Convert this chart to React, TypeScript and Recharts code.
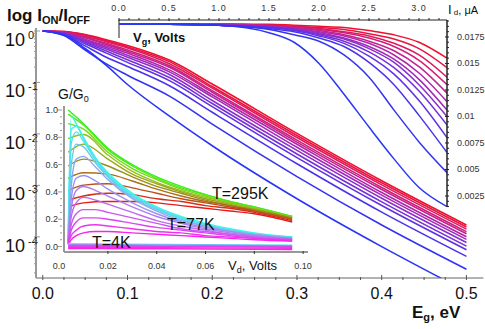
import React from "react";
import { LineChart, Line, XAxis, YAxis, ReferenceLine } from "recharts";

const FONT = "'Liberation Sans', Arial, sans-serif";

// ---- main plot: log(I_on/I_off) vs E_g ----
const egValues = [0, 0.025, 0.05, 0.075, 0.1, 0.15, 0.2, 0.3, 0.4, 0.5];
const egValuesLowest = [0, 0.025, 0.05, 0.075, 0.1, 0.15, 0.2, 0.3, 0.4, 0.48];
const logOnOff = [
  [0, -0.01, -0.07, -0.17, -0.28, -0.57, -1.03, -1.99, -2.91, -3.77],
  [0, -0.01, -0.08, -0.19, -0.31, -0.6, -1.08, -2.03, -2.95, -3.81],
  [0, -0.02, -0.1, -0.21, -0.33, -0.64, -1.11, -2.07, -2.99, -3.85],
  [0, -0.02, -0.12, -0.24, -0.37, -0.68, -1.16, -2.12, -3.04, -3.9],
  [0, -0.03, -0.13, -0.26, -0.4, -0.71, -1.19, -2.16, -3.08, -3.94],
  [0, -0.03, -0.16, -0.29, -0.43, -0.76, -1.24, -2.2, -3.14, -4.0],
  [0, -0.04, -0.18, -0.32, -0.47, -0.8, -1.28, -2.26, -3.19, -4.05],
  [0, -0.04, -0.2, -0.35, -0.51, -0.85, -1.35, -2.32, -3.25, -4.11],
  [0, -0.05, -0.22, -0.39, -0.56, -0.91, -1.41, -2.39, -3.32, -4.18],
  [0, -0.06, -0.25, -0.43, -0.61, -0.97, -1.47, -2.46, -3.39, -4.25],
  [0, -0.07, -0.29, -0.51, -0.69, -1.07, -1.58, -2.58, -3.52, -4.38],
  [0, -0.09, -0.37, -0.64, -0.86, -1.27, -1.81, -2.83, -3.77, -4.63],
];
const logOnOffLowest = [0, -0.08, -0.34, -0.67, -1.04, -1.66, -2.23, -3.26, -4.19, -4.89];

const curveColors = [
  "#f0102c", "#e81444", "#dc1a5e", "#d01e78", "#c22290", "#b226a6", "#a02aba",
  "#8c2ecb", "#7630d9", "#6032e4", "#4a34ec", "#3434f2", "#2a36f5",
];

const egTicks = [
  0, 0.025, 0.05, 0.075, 0.1, 0.125, 0.15, 0.175, 0.2, 0.225, 0.25, 0.275, 0.3,
  0.325, 0.35, 0.375, 0.4, 0.425, 0.45, 0.475, 0.5,
];
const egTickLabels = ["0.0", "0.1", "0.2", "0.3", "0.4", "0.5"];
const decadeExponents = ["0", "-1", "-2", "-3", "-4"];
const logTicks: number[] = [];
[0, -1, -2, -3, -4].forEach((d) => {
  logTicks.push(d);
  for (let k = 2; k <= 9; k++) logTicks.push(d - 1 + Math.log10(k));
});

// ---- top-right inset: I_d vs V_g ----
const vgValues = [0, 0.5, 1.0, 1.5, 1.75, 2.0, 2.25, 2.5, 2.75, 3.0, 3.28];
const idCurves = [
  [0.0187, 0.0187, 0.0187, 0.0187, 0.0186, 0.0185, 0.0184, 0.0181, 0.0177, 0.017, 0.0155],
  [0.0187, 0.0187, 0.0187, 0.0186, 0.0185, 0.0184, 0.0182, 0.0178, 0.0173, 0.0164, 0.0146],
  [0.0187, 0.0187, 0.0187, 0.0186, 0.0185, 0.0183, 0.018, 0.0176, 0.0169, 0.0158, 0.0137],
  [0.0187, 0.0187, 0.0187, 0.0186, 0.0184, 0.0182, 0.0179, 0.0174, 0.0166, 0.0153, 0.013],
  [0.0187, 0.0187, 0.0187, 0.0185, 0.0184, 0.0181, 0.0177, 0.0171, 0.0162, 0.0147, 0.0122],
  [0.0187, 0.0187, 0.0187, 0.0185, 0.0183, 0.018, 0.0176, 0.0169, 0.0158, 0.0141, 0.0114],
  [0.0187, 0.0187, 0.0186, 0.0185, 0.0183, 0.0179, 0.0174, 0.0166, 0.0154, 0.0135, 0.0106],
  [0.0187, 0.0187, 0.0186, 0.0185, 0.0182, 0.0178, 0.0173, 0.0164, 0.0151, 0.013, 0.01],
  [0.0187, 0.0187, 0.0186, 0.0184, 0.0182, 0.0177, 0.0171, 0.0161, 0.0146, 0.0124, 0.0092],
  [0.0187, 0.0187, 0.0186, 0.0184, 0.0181, 0.0176, 0.0169, 0.0157, 0.014, 0.0115, 0.008],
  [0.0187, 0.0187, 0.0186, 0.0183, 0.018, 0.0174, 0.0166, 0.0151, 0.013, 0.0101, 0.0066],
  [0.0187, 0.0187, 0.0186, 0.0182, 0.0177, 0.0171, 0.0158, 0.0137, 0.0106, 0.0076, 0.0047],
  [0.0187, 0.0187, 0.0186, 0.0179, 0.017, 0.015, 0.0121, 0.009, 0.006, 0.0033, 0.0015],
];
const vgTicks = Array.from({ length: 33 }, (_, i) => i / 10);
const vgTickLabels = ["0.0", "0.5", "1.0", "1.5", "2.0", "2.5", "3.0"];
const idTicks = Array.from({ length: 36 }, (_, i) => (i + 3) * 0.0005);
const idTickLabels = ["0.0025", "0.005", "0.0075", "0.01", "0.0125", "0.015", "0.0175"];

// ---- bottom-left inset: G/G0 vs V_d ----
const vd295 = [0.0037, 0.01, 0.02, 0.03, 0.04, 0.05, 0.06, 0.07, 0.08, 0.0955];
const g295 = [
  [1.0, 0.9, 0.72, 0.6, 0.51, 0.44, 0.38, 0.33, 0.29, 0.22],
  [0.97, 0.89, 0.71, 0.59, 0.5, 0.43, 0.38, 0.33, 0.29, 0.22],
  [0.9, 0.86, 0.69, 0.57, 0.49, 0.42, 0.37, 0.32, 0.28, 0.22],
  [0.79, 0.82, 0.67, 0.55, 0.47, 0.41, 0.36, 0.32, 0.28, 0.21],
  [0.69, 0.75, 0.64, 0.53, 0.46, 0.4, 0.35, 0.31, 0.27, 0.21],
  [0.59, 0.64, 0.59, 0.51, 0.44, 0.39, 0.34, 0.3, 0.27, 0.21],
  [0.5, 0.54, 0.53, 0.48, 0.42, 0.37, 0.33, 0.3, 0.26, 0.2],
  [0.41, 0.45, 0.46, 0.43, 0.39, 0.35, 0.32, 0.29, 0.26, 0.2],
  [0.34, 0.37, 0.39, 0.38, 0.35, 0.33, 0.3, 0.28, 0.25, 0.19],
  [0.29, 0.32, 0.33, 0.33, 0.32, 0.3, 0.28, 0.26, 0.24, 0.18],
];
const colors295 = [
  "#33f01a", "#4ee81a", "#7ad81a", "#93c21a", "#9aa81a", "#9c8c1a", "#a8701a",
  "#b8521a", "#d0301a", "#e81a1a",
];
const vd77 = [0.0037, 0.005, 0.007, 0.01, 0.015, 0.02, 0.03, 0.04, 0.05, 0.06, 0.07, 0.08, 0.0955];
const g77 = [
  [0.05, 0.95, 0.9, 0.8, 0.65, 0.54, 0.39, 0.29, 0.22, 0.17, 0.13, 0.1, 0.07],
  [0.05, 0.86, 0.88, 0.79, 0.64, 0.53, 0.38, 0.28, 0.21, 0.16, 0.12, 0.09, 0.07],
  [0.05, 0.76, 0.84, 0.77, 0.63, 0.52, 0.37, 0.28, 0.21, 0.16, 0.12, 0.09, 0.07],
  [0.04, 0.6, 0.75, 0.73, 0.61, 0.51, 0.36, 0.27, 0.2, 0.15, 0.12, 0.09, 0.06],
  [0.04, 0.45, 0.64, 0.66, 0.58, 0.49, 0.35, 0.26, 0.19, 0.15, 0.11, 0.09, 0.06],
  [0.03, 0.35, 0.5, 0.52, 0.48, 0.42, 0.32, 0.24, 0.18, 0.14, 0.11, 0.08, 0.06],
  [0.03, 0.28, 0.41, 0.44, 0.41, 0.37, 0.29, 0.22, 0.17, 0.13, 0.1, 0.08, 0.06],
  [0.03, 0.22, 0.32, 0.36, 0.34, 0.31, 0.25, 0.19, 0.15, 0.12, 0.09, 0.07, 0.05],
  [0.02, 0.16, 0.24, 0.27, 0.27, 0.25, 0.21, 0.17, 0.13, 0.11, 0.09, 0.07, 0.05],
  [0.02, 0.12, 0.18, 0.21, 0.21, 0.2, 0.17, 0.14, 0.12, 0.1, 0.08, 0.06, 0.05],
  [0.02, 0.08, 0.12, 0.15, 0.16, 0.15, 0.13, 0.11, 0.1, 0.08, 0.07, 0.06, 0.04],
  [0.01, 0.05, 0.08, 0.1, 0.11, 0.11, 0.1, 0.09, 0.08, 0.07, 0.06, 0.05, 0.04],
];
const colors77 = [
  "#3cf5e6", "#46ecea", "#52e0ec", "#66ccee", "#8aaaf0", "#9a92f0", "#ac7ef0",
  "#bc6af0", "#cc58f0", "#dc46f0", "#ec34ee", "#fa22ec",
];
const vd4 = [0.0037, 0.03, 0.06, 0.0955];
const g4 = [
  [0.02, 0.017, 0.014, 0.01],
  [0.014, 0.012, 0.009, 0.006],
  [0.008, 0.006, 0.004, 0.001],
  [0.002, 0.0, -0.002, -0.005],
  [-0.006, -0.008, -0.01, -0.013],
  [-0.014, -0.016, -0.018, -0.022],
];
const colors4 = ["#50e8f0", "#9a90f0", "#c060f0", "#e040f0", "#f030e8", "#ff20e0"];
const gTicks = Array.from({ length: 21 }, (_, i) => i * 0.05);
const gTickLabels = ["0.0", "0.2", "0.4", "0.6", "0.8", "1.0"];
const vdTicks = [0, 0.02, 0.04, 0.06, 0.08, 0.1];
const vdTickLabels = ["0.0", "0.02", "0.04", "0.06", "", "0.10"];

const toPoints = (xs: number[], ys: number[]) => xs.map((x, i) => ({ x, y: ys[i] }));

function LogTick(props: any) {
  const { x, y, payload } = props;
  const v = payload.value;
  const n = Math.round(v);
  const major = Math.abs(v - n) < 1e-6;
  return (
    <g>
      <line x1={x} x2={x + (major ? 6 : 3)} y1={y} y2={y} stroke="#999" />
      {major && (
        <text x={5} y={y + 15} fontSize={18} fontFamily={FONT} fill="#111">
          10
          <tspan dx={3} dy={-7} fontSize={11}>{decadeExponents[-n]}</tspan>
        </text>
      )}
    </g>
  );
}

function EgTick(props: any) {
  const { x, y, payload } = props;
  const v = payload.value;
  const i = Math.round(v * 10);
  const major = Math.abs(v * 10 - i) < 1e-6;
  return (
    <g>
      <line x1={x} x2={x} y1={y} y2={y - (major ? 5 : 3)} stroke="#555" />
      {major && (
        <text x={x} y={y + 19} textAnchor="middle" fontSize={16} fontFamily={FONT} fill="#111">
          {egTickLabels[i]}
        </text>
      )}
    </g>
  );
}

function VgTick(props: any) {
  const { x, y, payload } = props;
  const i = Math.round(payload.value * 10);
  const major = i % 5 === 0;
  return (
    <g>
      <line x1={x} x2={x} y1={y} y2={y + (major ? 3 : 2)} stroke="#222" />
      {major && (
        <text x={x} y={y - 7} textAnchor="middle" fontSize={9} letterSpacing={1} fontFamily={FONT} fill="#333">
          {vgTickLabels[i / 5]}
        </text>
      )}
    </g>
  );
}

function IdTick(props: any) {
  const { x, y, payload } = props;
  const i = Math.round(payload.value / 0.0005);
  const major = i % 5 === 0;
  return (
    <g>
      <line x1={x} x2={x - (major ? 4 : 2)} y1={y} y2={y} stroke="#222" />
      {major && (
        <text x={x + 8} y={y + 3} fontSize={9} fontFamily={FONT} fill="#333">
          {idTickLabels[i / 5 - 1]}
        </text>
      )}
    </g>
  );
}

function GTick(props: any) {
  const { x, y, payload } = props;
  const i = Math.round(payload.value / 0.05);
  const major = i % 4 === 0;
  return (
    <g>
      <line x1={x} x2={x - (major ? 4 : 2)} y1={y} y2={y} stroke="#999" />
      {major && (
        <text x={x - 4} y={y + 3} textAnchor="end" fontSize={9} fontFamily={FONT} fill="#333">
          {gTickLabels[i / 4]}
        </text>
      )}
    </g>
  );
}

function VdTick(props: any) {
  const { x, y, payload } = props;
  const i = Math.round(payload.value / 0.02);
  return (
    <g>
      {i > 0 && <line x1={x} x2={x} y1={y} y2={y - 3} stroke="#333" />}
      <text x={x} y={y + 15} textAnchor="middle" fontSize={9} fontFamily={FONT} fill="#333">
        {vdTickLabels[i]}
      </text>
    </g>
  );
}

const layer: React.CSSProperties = { position: "absolute", left: 0, top: 0 };

export default function App() {
  return (
    <div style={{ position: "absolute", left: 0, top: 0, width: 485, height: 329, background: "#fff", fontFamily: FONT }}>
      <div style={layer}>
        <LineChart width={485} height={329} margin={{ top: 27.9, right: 1.6, bottom: 21, left: 0 }}>
          <XAxis
            type="number"
            dataKey="x"
            domain={[-0.008, 0.52]}
            ticks={egTicks}
            interval={0}
            tickSize={0}
            tickLine={false}
            tick={EgTick}
            height={30}
            axisLine={{ stroke: "#666" }}
            allowDataOverflow
          />
          <YAxis
            type="number"
            dataKey="y"
            domain={[-4.8, 0.06]}
            ticks={logTicks}
            interval={0}
            tickSize={0}
            tickLine={false}
            tick={LogTick}
            width={36}
            axisLine={{ stroke: "#999", strokeWidth: 2 }}
            allowDataOverflow
          />
          {logOnOff.map((c, k) => (
            <Line
              key={"m" + k}
              data={toPoints(egValues, c)}
              dataKey="y"
              type="monotone"
              stroke={curveColors[k]}
              strokeWidth={1.6}
              dot={false}
              activeDot={false}
              isAnimationActive={false}
            />
          ))}
          <Line
            data={toPoints(egValuesLowest, logOnOffLowest)}
            dataKey="y"
            type="monotone"
            stroke={curveColors[12]}
            strokeWidth={1.6}
            dot={false}
            activeDot={false}
            isAnimationActive={false}
          />
        </LineChart>
      </div>

      <div style={layer}>
        <LineChart width={485} height={329} margin={{ top: 0, right: 0, bottom: 122, left: 119 }}>
          <XAxis
            orientation="top"
            type="number"
            dataKey="x"
            domain={[0, 3.28]}
            ticks={vgTicks}
            interval={0}
            tickSize={0}
            tickLine={false}
            tick={VgTick}
            height={20}
            axisLine={{ stroke: "#222" }}
          />
          <YAxis
            orientation="right"
            type="number"
            dataKey="y"
            domain={[0.00146, 0.0191]}
            ticks={idTicks}
            interval={0}
            tickSize={0}
            tickLine={false}
            tick={IdTick}
            width={38}
            axisLine={{ stroke: "#222", strokeWidth: 1.5 }}
            allowDataOverflow
          />
          <ReferenceLine segment={[{ x: 0, y: 0.0191 }, { x: 0, y: 0.0174 }]} stroke="#222" ifOverflow="visible" />
          {idCurves.map((c, k) => (
            <Line
              key={"i" + k}
              data={toPoints(vgValues, c)}
              dataKey="y"
              type="monotone"
              stroke={curveColors[k]}
              strokeWidth={1.5}
              dot={false}
              activeDot={false}
              isAnimationActive={false}
            />
          ))}
        </LineChart>
      </div>

      <div style={layer}>
        <LineChart width={485} height={329} margin={{ top: 105.9, right: 177, bottom: 57, left: 34 }}>
          <XAxis
            type="number"
            dataKey="x"
            domain={[0.002, 0.102]}
            ticks={vdTicks}
            interval={0}
            tickSize={0}
            tickLine={false}
            tick={VdTick}
            height={20}
            axisLine={{ stroke: "#333" }}
            allowDataOverflow
          />
          <YAxis
            type="number"
            dataKey="y"
            domain={[-0.04, 1.03]}
            ticks={gTicks}
            interval={0}
            tickSize={0}
            tickLine={false}
            tick={GTick}
            width={30}
            axisLine={{ stroke: "#999", strokeWidth: 2 }}
            allowDataOverflow
          />
          {g295.map((c, k) => (
            <Line
              key={"a" + k}
              data={toPoints(vd295, c)}
              dataKey="y"
              type="monotone"
              stroke={colors295[k]}
              strokeWidth={1.4}
              dot={false}
              activeDot={false}
              isAnimationActive={false}
            />
          ))}
          {g77.map((c, k) => (
            <Line
              key={"b" + k}
              data={toPoints(vd77, c)}
              dataKey="y"
              type="monotone"
              stroke={colors77[k]}
              strokeWidth={1.4}
              dot={false}
              activeDot={false}
              isAnimationActive={false}
            />
          ))}
          {g4.map((c, k) => (
            <Line
              key={"c" + k}
              data={toPoints(vd4, c)}
              dataKey="y"
              type="monotone"
              stroke={colors4[k]}
              strokeWidth={1.4}
              dot={false}
              activeDot={false}
              isAnimationActive={false}
            />
          ))}
        </LineChart>
      </div>

      <svg width={485} height={329} style={{ ...layer, pointerEvents: "none" }} fontFamily={FONT}>
        <text x={7} y={21} fontSize={17} fontWeight="bold" fill="#111">
          log I<tspan fontSize={11} dy={3}>ON</tspan>
          <tspan fontSize={17} dy={-3}>/I</tspan>
          <tspan fontSize={11} dy={3}>OFF</tspan>
        </text>
        <text x={412} y={318} fontSize={17} fontWeight="bold" fill="#111">
          E<tspan fontSize={11} dy={3}>g</tspan>
          <tspan fontSize={17} dy={-3}>, eV</tspan>
        </text>
        <text x={133} y={42} fontSize={13} fontWeight="bold" fill="#111">
          V<tspan fontSize={9} dy={3}>g</tspan>
          <tspan fontSize={13} dy={-3}>, Volts</tspan>
        </text>
        <text x={448} y={14} fontSize={13} fill="#111">
          I<tspan fontSize={8} dy={1}> d</tspan>
          <tspan fontSize={11} dy={-1}>, μA</tspan>
        </text>
        <text x={58} y={99} fontSize={14} fill="#111">
          G/G<tspan fontSize={9} dy={3}>0</tspan>
        </text>
        <text x={228} y={270} fontSize={13} fill="#111">
          V<tspan fontSize={9} dy={3}>d</tspan>
          <tspan fontSize={13} dy={-3}>, Volts</tspan>
        </text>
        <text x={212} y={199} fontSize={16} fill="#111">T=295K</text>
        <text x={167} y={230} fontSize={16} fill="#111">T=77K</text>
        <text x={92} y={248} fontSize={16} fill="#111">T=4K</text>
      </svg>
    </div>
  );
}
